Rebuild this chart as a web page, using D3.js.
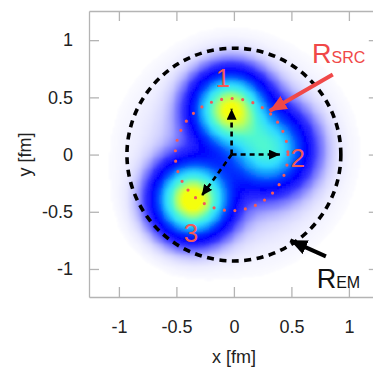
<!DOCTYPE html>
<html><head><meta charset="utf-8">
<script src="https://cdn.jsdelivr.net/npm/d3@7"></script>
<style>html,body{margin:0;padding:0;background:#fff;overflow:hidden}</style>
</head><body>
<svg id="chart" width="373" height="368"></svg>
<script>
// Axis ticks
const tickValues = [-1, -0.5, 0, 0.5, 1];
const tickLabels = ["-1", "-0.5", "0", "0.5", "1"];

// Quark density blobs (fm)
const blobX = [-0.03, 0.30, -0.36];
const blobY = [0.40, 0.05, -0.39];
const blobAmp = [0.9, 0.54, 1.0];
const blobSigma = [0.18, 0.2, 0.18];
// Broad envelope around the whole proton
const envAmp = 0.055;
const envSigma = 0.4;

// Quark labels
const quarkNames = ["1", "2", "3"];
const quarkLabelX = [-0.095, 0.556, -0.374];
const quarkLabelY = [0.59, -0.11, -0.76];

// Position vectors from the centre to each quark
const vecOrigin = [-0.02, 0.0];
const vecTipX = [-0.02, 0.40, -0.28];
const vecTipY = [0.40, 0.00, -0.36];

// Radii (fm)
const rEM = 0.93;
const rSRC = 0.49;
const srcCenter = [-0.02, 0.0];

// Annotation arrows: [tailX, tailY, tipX, tipY]
const srcArrow = [0.86, 0.70, 0.31, 0.38];
const emArrow = [0.80, -0.89, 0.49, -0.75];
const srcLabelPos = [0.68, 0.80];
const emLabelPos = [0.72, -1.165];

const svg = d3.select("#chart");
const font = "'Liberation Sans', Arial, Helvetica, sans-serif";

const x = d3.scaleLinear().domain([-1.26, 1.26]).range([89, 378.8]);
const y = d3.scaleLinear().domain([-1.245, 1.255]).range([297, 11]);

// Density field colour map
const color = d3.scaleLinear()
  .domain([0, 0.004, 0.015, 0.04, 0.08, 0.15, 0.25, 0.35, 0.47, 0.62, 0.77, 0.92])
  .range(["#ffffff", "#f2f2ff", "#d4d4ff", "#8888ff", "#3434ff", "#0000ff", "#0040ff",
          "#1098ff", "#30dcff", "#50f8d0", "#a8ff70", "#f4ff10"])
  .clamp(true);

function density(px, py) {
  let v = envAmp * Math.exp(-(px * px + py * py) / (2 * envSigma * envSigma));
  blobX.forEach((bx, i) => {
    const dx = px - bx, dy = py - blobY[i];
    v += blobAmp[i] * Math.exp(-(dx * dx + dy * dy) / (2 * blobSigma[i] * blobSigma[i]));
  });
  return v;
}

const step = 0.016;
const grid = [];
for (const gx of d3.range(-1.22, 1.22, step)) {
  for (const gy of d3.range(-1.22, 1.22, step)) {
    const v = density(gx, gy);
    if (v > 0.0015) grid.push({gx, gy, v});
  }
}

const defs = svg.append("defs");
defs.append("filter").attr("id", "soft")
  .attr("x", "-10%").attr("y", "-10%").attr("width", "120%").attr("height", "120%")
  .append("feGaussianBlur").attr("stdDeviation", 0.8);

const cw = x(step) - x(0) + 0.6;
const ch = y(0) - y(step) + 0.6;
svg.append("g").attr("filter", "url(#soft)")
  .selectAll("rect").data(grid).join("rect")
  .attr("x", d => x(d.gx - step / 2))
  .attr("y", d => y(d.gy + step / 2))
  .attr("width", cw).attr("height", ch)
  .attr("fill", d => color(d.v))
  .attr("shape-rendering", "crispEdges");

// Frame and ticks
const frameColor = "#b4b4b4";
function styleAxis(g) {
  g.selectAll(".domain").attr("stroke", frameColor).attr("stroke-width", 1.3);
  g.selectAll(".tick line").attr("stroke", frameColor).attr("stroke-width", 1.3);
  g.selectAll(".tick text").attr("fill", "#222").attr("font-family", font).attr("font-size", 18);
}
svg.append("g").attr("transform", `translate(0,${y.range()[0]})`)
  .call(d3.axisBottom(x).tickValues(tickValues).tickFormat((d, i) => tickLabels[i])
    .tickSizeInner(-10).tickSizeOuter(0).tickPadding(23))
  .call(styleAxis);
svg.append("g").attr("transform", `translate(0,${y.range()[1]})`)
  .call(d3.axisTop(x).tickValues(tickValues).tickFormat("").tickSizeInner(-10).tickSizeOuter(0))
  .call(styleAxis);
svg.append("g").attr("transform", `translate(${x.range()[0]},0)`)
  .call(d3.axisLeft(y).tickValues(tickValues).tickFormat((d, i) => tickLabels[i])
    .tickSizeInner(-10).tickSizeOuter(0).tickPadding(16))
  .call(styleAxis);
svg.append("g").attr("transform", `translate(${x.range()[1]},0)`)
  .call(d3.axisRight(y).tickValues(tickValues).tickFormat("").tickSizeInner(-10).tickSizeOuter(0))
  .call(styleAxis);

// Axis titles
svg.append("text").attr("x", x(0)).attr("y", 363)
  .attr("text-anchor", "middle").attr("font-family", font).attr("font-size", 18).attr("fill", "#222")
  .text("x [fm]");
svg.append("text").attr("transform", `translate(31,${y(0)}) rotate(-90)`)
  .attr("text-anchor", "middle").attr("font-family", font).attr("font-size", 18).attr("fill", "#222")
  .text("y [fm]");

// Electromagnetic radius
svg.append("ellipse")
  .attr("cx", x(0)).attr("cy", y(0))
  .attr("rx", x(rEM) - x(0)).attr("ry", y(0) - y(rEM))
  .attr("fill", "none").attr("stroke", "#000").attr("stroke-width", 3.6)
  .attr("stroke-dasharray", "7,5.5");

// Source radius
const red = "#f04848";
svg.append("ellipse")
  .attr("cx", x(srcCenter[0])).attr("cy", y(srcCenter[1]))
  .attr("rx", x(rSRC) - x(0)).attr("ry", y(0) - y(rSRC))
  .attr("fill", "none").attr("stroke", "#f25a5a").attr("stroke-width", 3.2)
  .attr("stroke-linecap", "round").attr("stroke-dasharray", "0,10.6");

// Arrow markers
function marker(id, fill, len, wid) {
  defs.append("marker").attr("id", id)
    .attr("markerUnits", "userSpaceOnUse")
    .attr("markerWidth", len).attr("markerHeight", wid)
    .attr("refX", len).attr("refY", wid / 2)
    .attr("orient", "auto")
    .append("path").attr("d", `M0,0L${len},${wid / 2}L0,${wid}Z`).attr("fill", fill);
}
marker("headSmall", "#000", 11, 10);
marker("headRed", red, 17, 15);
marker("headBlack", "#000", 17, 15);

// Quark position vectors
svg.append("g").selectAll("line").data(vecTipX).join("line")
  .attr("x1", x(vecOrigin[0])).attr("y1", y(vecOrigin[1]))
  .attr("x2", (d, i) => x(d)).attr("y2", (d, i) => y(vecTipY[i]))
  .attr("stroke", "#000").attr("stroke-width", 2.6)
  .attr("stroke-dasharray", "5,4")
  .attr("marker-end", "url(#headSmall)");

// Quark labels
svg.append("g").selectAll("text").data(quarkNames).join("text")
  .attr("x", (d, i) => x(quarkLabelX[i])).attr("y", (d, i) => y(quarkLabelY[i]))
  .attr("text-anchor", "middle").attr("font-family", font).attr("font-size", 26)
  .attr("fill", "#f05a5a").text(d => d);

// Annotations
svg.append("line")
  .attr("x1", x(srcArrow[0])).attr("y1", y(srcArrow[1]))
  .attr("x2", x(srcArrow[2])).attr("y2", y(srcArrow[3]))
  .attr("stroke", red).attr("stroke-width", 4).attr("marker-end", "url(#headRed)");
svg.append("line")
  .attr("x1", x(emArrow[0])).attr("y1", y(emArrow[1]))
  .attr("x2", x(emArrow[2])).attr("y2", y(emArrow[3]))
  .attr("stroke", "#000").attr("stroke-width", 4).attr("marker-end", "url(#headBlack)");

const srcLabel = svg.append("text").attr("x", x(srcLabelPos[0])).attr("y", y(srcLabelPos[1]))
  .attr("font-family", font).attr("fill", red);
srcLabel.append("tspan").attr("font-size", 27).text("R");
srcLabel.append("tspan").attr("font-size", 16).text("SRC");

const emLabel = svg.append("text").attr("x", x(emLabelPos[0])).attr("y", y(emLabelPos[1]))
  .attr("font-family", font).attr("fill", "#111");
emLabel.append("tspan").attr("font-size", 27).text("R");
emLabel.append("tspan").attr("font-size", 16).text("EM");
</script>
</body></html>
